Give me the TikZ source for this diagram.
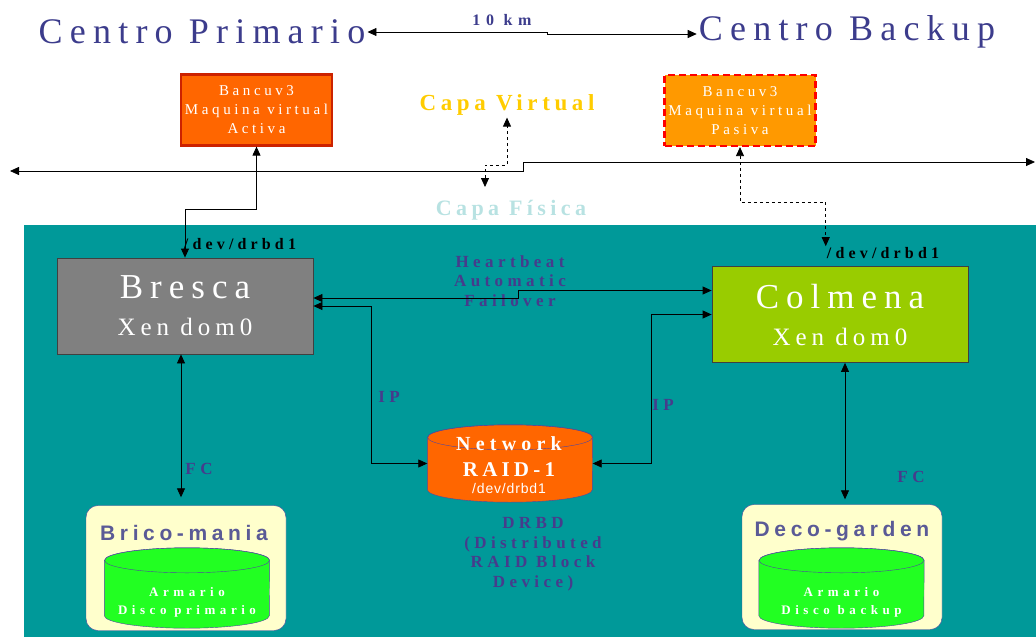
\documentclass[tikz,border=0pt]{standalone}
\usepackage{fontspec}
\setmainfont{Liberation Serif}
\newfontfamily\spcfont[LetterSpace=20]{Liberation Serif}
\newfontfamily\vmfont[LetterSpace=24]{Liberation Serif}
\newfontfamily\tagfont[LetterSpace=26]{Liberation Serif}
\newfontfamily\widefont[LetterSpace=35]{Liberation Serif}
\newfontfamily\sanswide[LetterSpace=22]{Liberation Sans}
\newfontfamily\sansdev[LetterSpace=6]{Liberation Sans}
\usetikzlibrary{arrows.meta}

\definecolor{tealbg}{RGB}{0,153,153}
\definecolor{titleblue}{RGB}{60,60,140}
\definecolor{lblblue}{RGB}{70,60,140}
\definecolor{capayel}{RGB}{255,204,0}
\definecolor{capacyan}{RGB}{184,226,226}
\definecolor{activafill}{RGB}{255,102,0}
\definecolor{activaedge}{RGB}{204,34,0}
\definecolor{pasivafill}{RGB}{255,153,0}
\definecolor{hostgray}{RGB}{128,128,128}
\definecolor{hostgreen}{RGB}{153,204,0}
\definecolor{diskedge}{RGB}{80,70,160}
\definecolor{cream}{RGB}{255,255,204}
\definecolor{diskgreen}{RGB}{34,255,34}
\definecolor{storetext}{RGB}{90,90,150}

% cylinder drawn round an empty node: #1 node, #2 x radius, #3 y radius, #4 fill
\newcommand\diskshape[4]{%
  \filldraw [draw=diskedge, fill=#4] ([yshift=-#3pt]#1.north west) -- ([yshift=#3pt]#1.south west)
    arc [start angle=180, end angle=360, x radius=#2pt, y radius=#3pt]
    -- ([yshift=-#3pt]#1.north east)
    arc [start angle=0, end angle=180, x radius=#2pt, y radius=#3pt] -- cycle;
  \draw [diskedge] ([yshift=-#3pt]#1.north) ellipse [x radius=#2pt, y radius=#3pt];}

\begin{document}
\begin{tikzpicture}[x=1pt,y=-1pt,
    >={Triangle[length=9pt,width=8pt]},
    title/.style={text=titleblue, inner sep=2pt, font=\spcfont\fontsize{36}{36}\selectfont},
    vmbox/.style={draw, line width=2.2pt, minimum width=151pt, minimum height=71pt,
      text=white, align=center, font=\vmfont\fontsize{15}{19}\selectfont},
    hostbox/.style={draw=black!75, thick, minimum width=256pt, minimum height=96pt,
      text=white, align=center, font=\spcfont\fontsize{25}{37}\selectfont},
    tag/.style={text=lblblue, inner sep=1pt, align=center, font=\tagfont\bfseries\fontsize{17}{19.5}\selectfont},
    devtag/.style={inner sep=1pt, font=\tagfont\bfseries\fontsize{16}{16}\selectfont},
    diskbox/.style={inner sep=0pt, minimum width=165pt},
    store/.style={draw=diskedge, fill=cream, rounded corners=12pt,
      minimum width=200pt, minimum height=125pt},
    armtext/.style={text=white, align=center, font=\widefont\bfseries\fontsize{13}{18}\selectfont},
    link/.style={<->, line width=0.8pt},
    vlink/.style={<->, line width=0.8pt, dashed}]

    \useasboundingbox (0,0) rectangle (1036,637);
    \fill [tealbg] (24,225) rectangle (1036,637);

    % sites
    \node [title] (prim) at (202,32) {Centro Primario};
    \node [title] (back) at (847,32) {Centro Backup};
    \node [text=titleblue, font=\widefont\bfseries\fontsize{16}{16}\selectfont] (dist) at (502,20) {10 km};
    \draw [link] (prim.east) -- ++(180,0) |- ([yshift=-2pt]back.west);

    % virtual layer
    \node [vmbox, fill=activafill, draw=activaedge] (activa) at (256.5,110) {Bancuv3\\Maquina virtual\\Activa};
    \node [vmbox, fill=pasivafill, draw=red, dash pattern=on 7pt off 4pt] (pasiva) at (740,110.5) {Bancuv3\\Maquina virtual\\Pasiva};
    \node [text=capayel, inner sep=2pt, font=\spcfont\bfseries\fontsize{23}{23}\selectfont] (capav) at (507,105) {Capa Virtual};
    \node [text=capacyan, inner sep=2pt, font=\spcfont\bfseries\fontsize{22}{22}\selectfont] (capaf) at (511,210) {Capa Física};

    \coordinate (netL) at (10,171);
    \coordinate (netR) at (1035,162);
    \draw [link] (netL) -- (523,171) -- (523,162) -- (netR);

    \coordinate (fis) at (485,187);
    \draw [vlink] (fis) -- (485,165) -| (capav.south);

    % hosts
    \node [hostbox, fill=hostgray] (bresca) at (185,306) {\fontsize{35}{37}\selectfont Bresca\\Xen dom0};
    \node [hostbox, fill=hostgreen] (colmena) at (840,314.5) {\fontsize{35}{37}\selectfont Colmena\\Xen dom0};
    \node [devtag] (devL) at (240,244) {/dev/drbd1};
    \node [devtag] (devR) at (883,253) {/dev/drbd1};

    \draw [link] (activa.south) -- ++(0,63) -| (bresca.north);
    \draw [vlink] (pasiva.south) -- ++(0,55) -| (devR.north west);

    % network raid
    \node [diskbox, minimum height=77pt] (raid) at (510,463.5) {};
    \diskshape{raid}{82.5}{12.5}{activafill}
    \node [text=white, align=center, inner sep=0pt, font=\fontsize{14}{20}\selectfont] (raidt) at (509,465)
      {\tagfont\bfseries\fontsize{20}{20}\selectfont Network\\[6pt]\spcfont\bfseries\fontsize{21}{20}\selectfont RAID-1\\[-3pt]\sansdev\fontsize{14}{20}\selectfont /dev/drbd1};

    \node [tag] (hb) at (510,281) {Heartbeat\\Automatic\\Failover};
    \draw [link] ([yshift=8pt]bresca.east) -- ++(205,0) |- ([yshift=24pt]colmena.west);
    \draw [link] (bresca.east) -- ++(58,0) |- (raid.west);
    \draw [link] (colmena.west) -- ++(-60,0) |- (raid.east);
    \node [tag] (ipL) at (389,397) {IP};
    \node [tag] (ipR) at (663,405) {IP};
    \node [tag] (drbd) at (533,554) {DRBD\\(Distributed\\RAID Block\\Device)};

    % storage
    \node [store] (brico) at (186,568) {};
    \node [store] (deco) at (842,567) {};
    \node [text=storetext, font=\sanswide\bfseries\fontsize{21}{21}\selectfont] (bricot) at (184,533) {Brico-mania};
    \node [text=storetext, font=\sanswide\bfseries\fontsize{21}{21}\selectfont] (decot) at (842,531) {Deco-garden};
    \node [diskbox, minimum height=80pt] (armL) at (187,588) {};
    \diskshape{armL}{82.5}{12.5}{diskgreen}
    \node [diskbox, minimum height=80pt] (armR) at (841.5,588) {};
    \diskshape{armR}{82.5}{12.5}{diskgreen}
    \node [armtext] (armLt) at (187,602) {Armario\\Disco primario};
    \node [armtext] (armRt) at (841.5,602) {Armario\\Disco backup};

    \draw [link] ([xshift=-4pt]bresca.south) -- ([xshift=-4pt,yshift=8pt]bresca.south |- brico.north);
    \draw [link] ([xshift=5pt]colmena.south) -- ([xshift=5pt,yshift=5pt]colmena.south |- deco.north);
    \node [tag] (fcL) at (199,469) {FC};
    \node [tag] (fcR) at (911,477) {FC};

\end{tikzpicture}
\end{document}
